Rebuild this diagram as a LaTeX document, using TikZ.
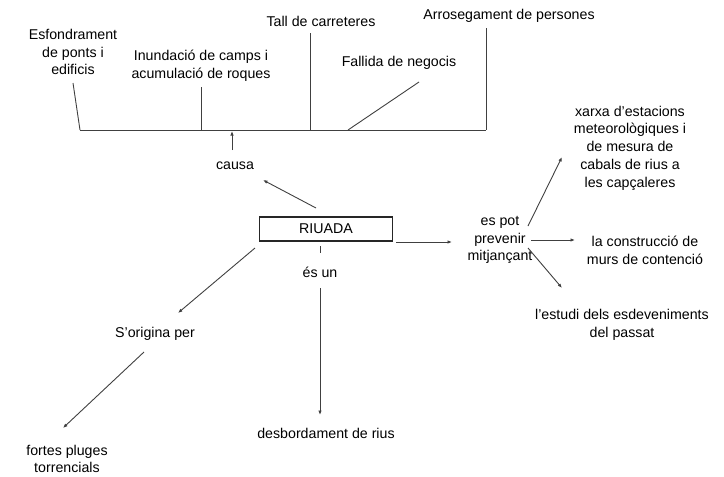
\documentclass[tikz,border=0pt]{standalone}
\usepackage{fontspec}
\setmainfont{Liberation Sans}
\usetikzlibrary{arrows.meta}
\tikzset{
  txt/.style={align=center,font=\fontsize{14.2}{17.8}\selectfont,inner sep=0pt,text=black},
  ln/.style={draw=black!75,line width=0.9pt},
  arr/.style={ln,-{Latex[length=4.5pt,width=3.5pt]}},
  box/.style={draw=black!85,line width=1.3pt,minimum width=133pt,minimum height=24pt,inner sep=0pt,font=\fontsize{14.2}{16}\selectfont}
}
\begin{document}
\begin{tikzpicture}[x=1pt,y=-1pt]
\useasboundingbox (0,0) rectangle (724,477);
% nodes
\node[txt] (esf) at (73,52) {Esfondrament\\de ponts i\\edificis};
\node[txt] (inu) at (201,66) {Inundació de camps i\\acumulació de roques};
\node[txt] (tall) at (321,21) {Tall de carreteres};
\node[txt] (fal) at (399,63) {Fallida de negocis};
\node[txt] (arrp) at (509,16) {Arrosegament de persones};
\node[txt] (causa) at (235,166) {causa};
\node[box] (riuada) at (326,229) {RIUADA};
\node[txt] (espot) at (500,240) {es pot\\prevenir\\mitjançant};
\node[txt] (xarxa) at (630,148) {xarxa d'estacions\\meteorològiques i\\de mesura de\\cabals de rius a\\les capçaleres};
\node[txt] (cons) at (645,250) {la construcció de\\murs de contenció};
\node[txt] (estudi) at (622,325) {l'estudi dels esdeveniments\\del passat};
\node[txt] (esun) at (320,272) {és un};
\node[txt] (desb) at (326,433) {desbordament de rius};
\node[txt] (sorig) at (155,334) {S'origina per};
\node[txt] (fortes) at (67,459) {fortes pluges\\torrencials};
% bracket coordinates
\coordinate (b1) at (80,130);
\coordinate (b2) at (201,130);
\coordinate (bc) at (232,130);
\coordinate (b3) at (310,130);
\coordinate (b4) at (348,130);
\coordinate (b5) at (486,130);
\draw[ln] (b1) -- (b5);
\draw[ln] ([shift={(0,31)}]esf.center) -- (b1);
\draw[ln] ([shift={(0,21)}]inu.center) -- (b2);
\draw[ln] ([shift={(-11,12)}]tall.center) -- (b3);
\draw[ln] ([shift={(20,19)}]fal.center) -- (b4);
\draw[ln] ([shift={(-23,12)}]arrp.center) -- (b5);
% arrows
\draw[arr] ([shift={(-3,-16)}]causa.center) -- ([shift={(0,1)}]bc);
\draw[arr] ([shift={(-10,-21)}]riuada.center) -- ([shift={(28,14)}]causa.center);
\draw[arr] ([shift={(70,13)}]riuada.center) -- ([shift={(-48,2)}]espot.center);
\draw[arr] ([shift={(28,-14)}]espot.center) -- ([shift={(-68,9)}]xarxa.center);
\draw[arr] ([shift={(31,0)}]espot.center) -- ([shift={(-70,-10)}]cons.center);
\draw[arr] ([shift={(28,8)}]espot.center) -- ([shift={(-60,-37)}]estudi.center);
\draw[arr] ([shift={(-71,19)}]riuada.center) -- ([shift={(23,-21)}]sorig.center);
\draw[arr] ([shift={(-11,18)}]sorig.center) -- ([shift={(-4,-31)}]fortes.center);
\draw[ln] ([shift={(-6,17)}]riuada.center) -- ([shift={(0,-19)}]esun.center);
\draw[arr] ([shift={(0,16)}]esun.center) -- ([shift={(-6,-18)}]desb.center);
\end{tikzpicture}
\end{document}
